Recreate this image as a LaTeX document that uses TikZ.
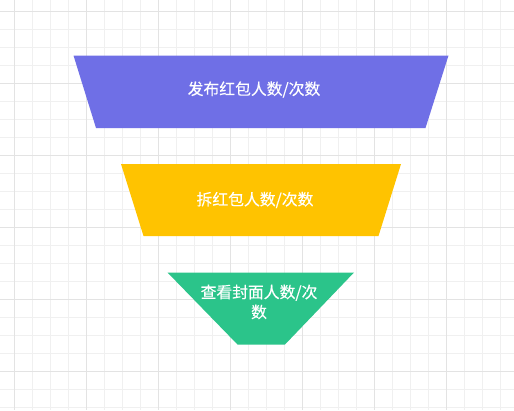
\documentclass[tikz,border=0pt]{standalone}
\usepackage{fontspec}
\newfontfamily\cjk{Noto Sans CJK SC}[FakeBold=0.3]
\definecolor{gminor}{HTML}{F0F0F0}
\definecolor{gmajor}{HTML}{E3E3E3}
\definecolor{cpurple}{HTML}{6F6FE6}
\definecolor{cyellow}{HTML}{FFC300}
\definecolor{cgreen}{HTML}{2BC48A}
\tikzset{
  lbl/.style={text=white, font=\cjk\fontsize{15.8}{20}\selectfont, align=center, inner sep=0pt},
}
\begin{document}
\begin{tikzpicture}[x=1pt,y=-1pt]
\useasboundingbox (0,0) rectangle (514,410);
\fill[white] (0,0) rectangle (514,410);
% minor grid
\foreach \i in {-4,...,30} {
  \draw[gminor, line width=0.8pt] ({14+18*\i},0) -- ({14+18*\i},410);
  \draw[gminor, line width=0.8pt] (0,{11.5+18*\i}) -- (514,{11.5+18*\i});
}
% major grid
\foreach \i in {-1,...,7} {
  \draw[gmajor, line width=0.9pt] ({14+72*\i},0) -- ({14+72*\i},410);
  \draw[gmajor, line width=0.9pt] (0,{11.5+72*\i}) -- (514,{11.5+72*\i});
}
% funnel stages
\fill[cpurple] (73.5,55.5) -- (448.5,55.5) -- (425.5,128) -- (96,128) -- cycle;
\fill[cyellow] (121,164) -- (401,164) -- (378.5,236) -- (143.5,236) -- cycle;
\fill[cgreen] (167.5,272.5) -- (354,272.5) -- (285,344.5) -- (237.5,344.5) -- cycle;
\node[lbl] (t1) at (254,89.5) {发布红包人数/次数};
\node[lbl] (t2) at (255,200) {拆红包人数/次数};
\node[lbl] (t3) at (259,302) {查看封面人数/次\\数};
\end{tikzpicture}
\end{document}
